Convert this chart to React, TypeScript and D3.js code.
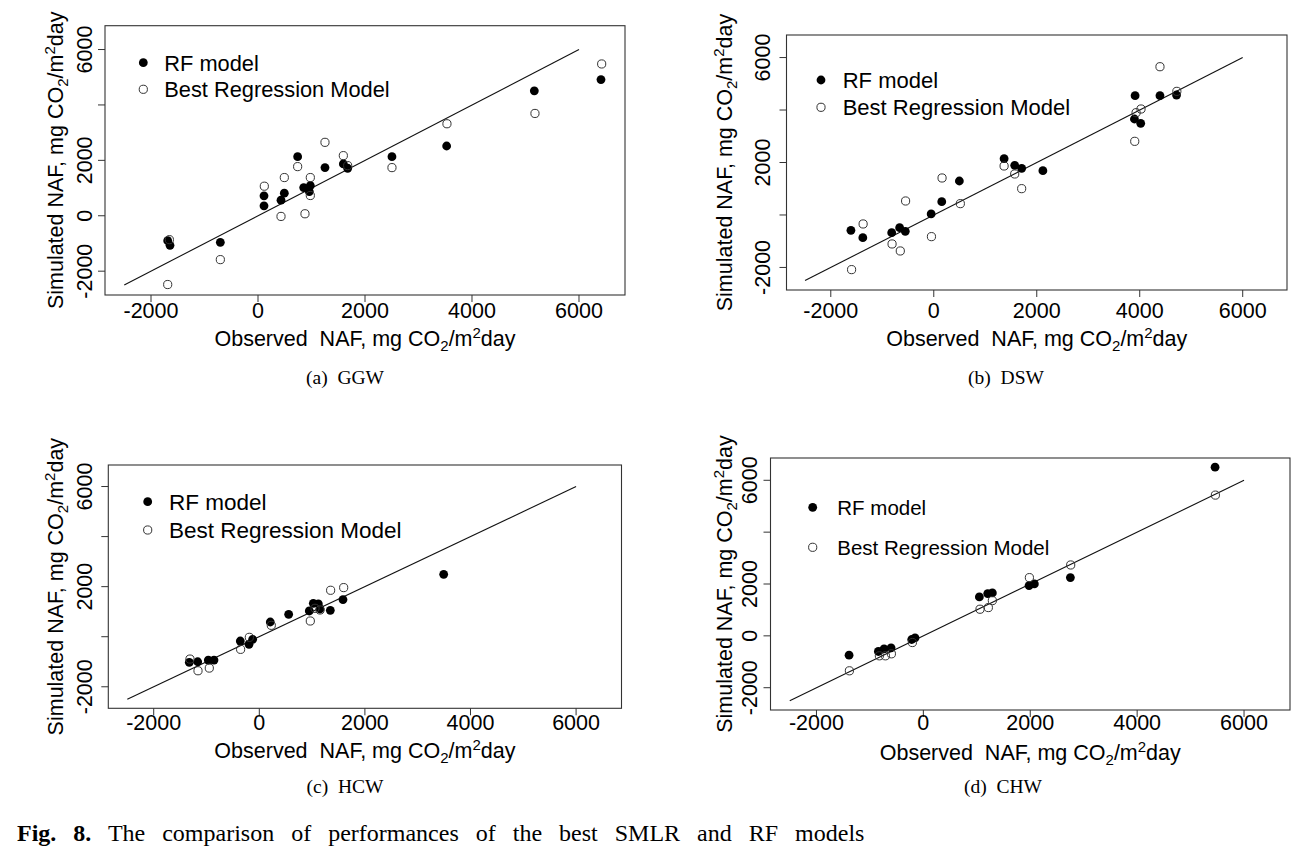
import React from "react";
import * as d3 from "d3";

// ---------- data: [observed, simulated] ----------
const xTickValues = [-2000, 0, 2000, 4000, 6000];
const yTickValues = [-2000, 0, 2000, 4000, 6000];
const oneToOne = [-2500, 6000];
const axisDomain: [number, number] = [-2860, 6860];

const ggwRF: [number, number][] = [
  [-1688, -899], [-1645, -1068], [-704, -959], [112, 360], [112, 719], [430, 564],
  [492, 815], [741, 2134], [854, 1019], [978, 1091], [959, 875], [1252, 1738],
  [1595, 1870], [1676, 1714], [2504, 2134], [3526, 2518], [5165, 4508], [6411, 4916],
];
const ggwReg: [number, number][] = [
  [-1657, -863], [-1688, -2482], [-704, -1583], [118, 1067], [492, 1379], [430, -24],
  [741, 1774], [878, 72], [978, 1379], [978, 731], [1252, 2650], [1595, 2170],
  [1676, 1810], [2504, 1738], [3532, 3321], [5177, 3693], [6424, 5479],
];
const dswRF: [number, number][] = [
  [-1609, -584], [-1378, -864], [-817, -673], [-663, -483], [-553, -622], [-51, 38],
  [155, 508], [497, 1295], [1366, 2146], [1572, 1892], [1707, 1778], [2119, 1689],
  [3910, 4546], [4393, 4546], [4715, 4572], [3897, 3658], [4019, 3492],
];
const dswReg: [number, number][] = [
  [-1596, -2083], [-1372, -343], [-810, -1105], [-650, -1372], [-547, 533], [-45, -826],
  [161, 1410], [516, 432], [1366, 1867], [1572, 1562], [1707, 1003], [3903, 2807],
  [3929, 3898], [4025, 4039], [4393, 5651], [4721, 4712],
];
const hcwRF: [number, number][] = [
  [-1326, -1024], [-1167, -1000], [-966, -933], [-858, -933], [-360, -172], [-195, -305],
  [-126, -105], [208, 588], [556, 895], [947, 1028], [1023, 1335], [1118, 1308],
  [1150, 1108], [1345, 1055], [1585, 1482], [3492, 2494],
];
const hcwReg: [number, number][] = [
  [-1313, -893], [-1161, -1360], [-947, -1253], [-354, -505], [-189, -25], [227, 455],
  [966, 628], [1055, 1135], [1150, 1068], [1351, 1855], [1598, 1962],
];
const chwRF: [number, number][] = [
  [-1390, -744], [-842, -603], [-735, -500], [-604, -462], [-218, -141], [-156, -77],
  [1048, 1502], [1204, 1630], [1291, 1655], [1978, 1938], [2077, 2002], [2751, 2246],
  [5458, 6506],
];
const chwReg: [number, number][] = [
  [-1384, -1348], [-823, -770], [-710, -770], [-598, -693], [-205, -257], [1060, 1027],
  [1216, 1091], [1291, 1360], [1984, 2246], [2757, 2734], [5464, 5429],
];

const legendLabels = ["RF model", "Best Regression Model"];
const panelCaptions = ["(a)\u00a0\u00a0GGW", "(b)\u00a0\u00a0DSW", "(c)\u00a0\u00a0HCW", "(d)\u00a0\u00a0CHW"];
const yLabelSets = [
  [-2000, 0, 2000, 6000],
  [-2000, 2000, 6000],
  [-2000, 2000, 6000],
  [-2000, 0, 2000, 6000],
];

// ---------- layout ----------
const layouts = [
  { l: 105, r: 625, t: 25.7, b: 295, yLabX: 91.7, yTitleX: 63.3, xTickY: 318, xTitleY: 346, capX: 345, capY: 384, lx: 143.3, ly: [62.7, 89.3], tx: 164.3, lfs: 21.8 },
  { l: 786.5, r: 1287, t: 35, b: 290, yLabX: 770, yTitleX: 731.7, xTickY: 318, xTitleY: 346, capX: 1006, capY: 384, lx: 821, ly: [80, 107.3], tx: 842.7, lfs: 22 },
  { l: 108.3, r: 621.5, t: 465, b: 708.3, yLabX: 91.7, yTitleX: 63.3, xTickY: 730, xTitleY: 758, capX: 345, capY: 793, lx: 147.7, ly: [501.7, 530], tx: 169, lfs: 22.5 },
  { l: 770.5, r: 1290, t: 458, b: 710, yLabX: 756.7, yTitleX: 731.7, xTickY: 730, xTitleY: 760, capX: 1003, capY: 793, lx: 812.7, ly: [507.3, 547.3], tx: 837.3, lfs: 20.5 },
];

const sans = "'Liberation Sans', Arial, sans-serif";
const serif = "'Liberation Serif', 'Times New Roman', serif";
const FS = 21.5;
const SUB = 15;

function UnitTitle({ prefix }: { prefix: string }) {
  return (
    <>
      {prefix} mg CO
      <tspan fontSize={SUB} dy={5}>2</tspan>
      <tspan dy={-5}>/m</tspan>
      <tspan fontSize={SUB} dy={-8}>2</tspan>
      <tspan dy={8}>day</tspan>
    </>
  );
}

function Panel({ idx, rf, reg }: { idx: number; rf: [number, number][]; reg: [number, number][] }) {
  const L = layouts[idx];
  const x = d3.scaleLinear().domain(axisDomain).range([L.l, L.r]);
  const y = d3.scaleLinear().domain(axisDomain).range([L.b, L.t]);
  const line = d3.line<number>().x((v) => x(v)).y((v) => y(v));
  const cx = (L.l + L.r) / 2;
  const cy = (L.t + L.b) / 2;
  return (
    <g>
      <rect x={L.l} y={L.t} width={L.r - L.l} height={L.b - L.t} fill="none" stroke="#333" strokeWidth={1.1} />
      <path d={line(oneToOne) || ""} stroke="#111" strokeWidth={1.1} fill="none" />
      {rf.map((d, i) => (
        <circle key={"f" + i} cx={x(d[0])} cy={y(d[1])} r={4.4} fill="#000" />
      ))}
      {reg.map((d, i) => (
        <circle key={"o" + i} cx={x(d[0])} cy={y(d[1])} r={4.1} fill="none" stroke="#333" strokeWidth={1} />
      ))}
      {xTickValues.map((v) => (
        <g key={"xt" + v}>
          <line x1={x(v)} x2={x(v)} y1={L.b} y2={L.b + 7} stroke="#333" />
          <text x={x(v)} y={L.xTickY} textAnchor="middle" fontSize={FS} fontFamily={sans}>{v}</text>
        </g>
      ))}
      {yTickValues.map((v) => (
        <line key={"yt" + v} x1={L.l - 7} x2={L.l} y1={y(v)} y2={y(v)} stroke="#333" />
      ))}
      {yLabelSets[idx].map((v) => (
        <text key={"yl" + v} transform={`translate(${L.yLabX},${y(v)}) rotate(-90)`} textAnchor="middle" fontSize={FS} fontFamily={sans}>{v}</text>
      ))}
      <text x={cx} y={L.xTitleY} textAnchor="middle" fontSize={FS} fontFamily={sans}>
        <UnitTitle prefix={"Observed\u00a0\u00a0NAF,"} />
      </text>
      <text transform={`translate(${L.yTitleX},${cy}) rotate(-90)`} textAnchor="middle" fontSize={FS} fontFamily={sans}>
        <UnitTitle prefix={"Simulated NAF,"} />
      </text>
      <circle cx={L.lx} cy={L.ly[0]} r={4.4} fill="#000" />
      <circle cx={L.lx} cy={L.ly[1]} r={4.1} fill="none" stroke="#333" />
      <text x={L.tx} y={L.ly[0] + 8} fontSize={L.lfs} fontFamily={sans}>{legendLabels[0]}</text>
      <text x={L.tx} y={L.ly[1] + 8} fontSize={L.lfs} fontFamily={sans}>{legendLabels[1]}</text>
      <text x={L.capX} y={L.capY} textAnchor="middle" fontSize={19.5} fontFamily={serif}>{panelCaptions[idx]}</text>
    </g>
  );
}

export default function App() {
  return (
    <svg width={1311} height={853} style={{ position: "absolute", left: 0, top: 0, background: "#fff" }}>
      <rect width={1311} height={853} fill="#fff" />
      <Panel idx={0} rf={ggwRF} reg={ggwReg} />
      <Panel idx={1} rf={dswRF} reg={dswReg} />
      <Panel idx={2} rf={hcwRF} reg={hcwReg} />
      <Panel idx={3} rf={chwRF} reg={chwReg} />
      <text x={17} y={841} fontSize={24} fontFamily={serif} wordSpacing={11}>
        <tspan fontWeight="bold">Fig. 8.</tspan> The comparison of performances of the best SMLR and RF models
      </text>
    </svg>
  );
}
